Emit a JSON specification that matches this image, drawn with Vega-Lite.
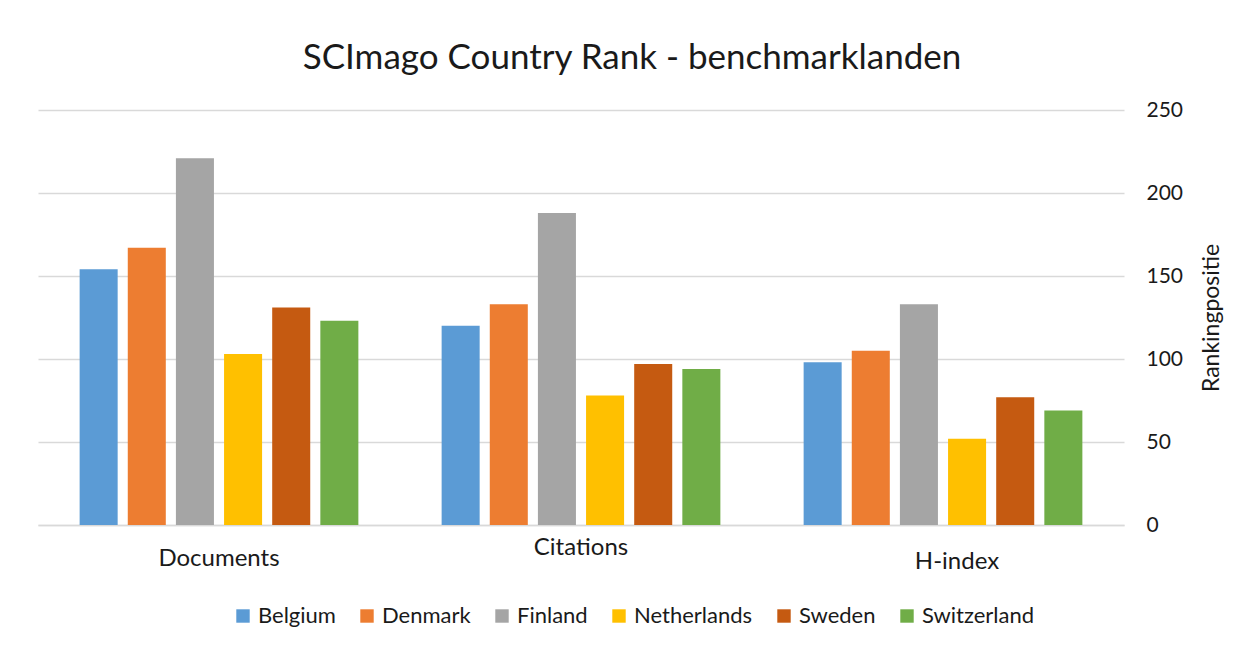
{
  "$schema": "https://vega.github.io/schema/vega-lite/v6.json",
  "autosize": {"type": "none"},
  "width": 1086,
  "height": 415,
  "padding": {"left": 38, "top": 110, "right": 120, "bottom": 123},
  "background": "white",
  "title": {
    "text": "SCImago Country Rank - benchmarklanden",
    "font": "Lato",
    "fontSize": 35,
    "fontWeight": "normal",
    "color": "#1a1a1a",
    "anchor": "middle",
    "dx": 51,
    "offset": 23
  },
  "data": {
    "values": [
      {"metric": "Documents", "country": "Belgium", "rank": 154},
      {"metric": "Documents", "country": "Denmark", "rank": 167},
      {"metric": "Documents", "country": "Finland", "rank": 221},
      {"metric": "Documents", "country": "Netherlands", "rank": 103},
      {"metric": "Documents", "country": "Sweden", "rank": 131},
      {"metric": "Documents", "country": "Switzerland", "rank": 123},
      {"metric": "Citations", "country": "Belgium", "rank": 120},
      {"metric": "Citations", "country": "Denmark", "rank": 133},
      {"metric": "Citations", "country": "Finland", "rank": 188},
      {"metric": "Citations", "country": "Netherlands", "rank": 78},
      {"metric": "Citations", "country": "Sweden", "rank": 97},
      {"metric": "Citations", "country": "Switzerland", "rank": 94},
      {"metric": "H-index", "country": "Belgium", "rank": 98},
      {"metric": "H-index", "country": "Denmark", "rank": 105},
      {"metric": "H-index", "country": "Finland", "rank": 133},
      {"metric": "H-index", "country": "Netherlands", "rank": 52},
      {"metric": "H-index", "country": "Sweden", "rank": 77},
      {"metric": "H-index", "country": "Switzerland", "rank": 69}
    ]
  },
  "mark": {"type": "bar"},
  "encoding": {
    "x": {
      "field": "metric",
      "type": "nominal",
      "sort": ["Documents", "Citations", "H-index"],
      "scale": {"paddingInner": 0.23, "paddingOuter": 0.115},
      "axis": {
        "title": null,
        "labelAngle": 0,
        "labelFont": "Lato",
        "labelFontSize": 24,
        "labelColor": "#1a1a1a",
        "labelPadding": {"condition": [{"test": "datum.value === 'Citations'", "value": 10}, {"test": "datum.value === 'H-index'", "value": 24}], "value": 21},
        "labelOffset": {"condition": {"test": "datum.value === 'H-index'", "value": 14}, "value": 0},
        "ticks": false,
        "domainColor": "#d9d9d9",
        "domainWidth": 1.5
      }
    },
    "xOffset": {
      "field": "country",
      "type": "nominal",
      "scale": {"paddingInner": 0.21, "paddingOuter": 0}
    },
    "y": {
      "field": "rank",
      "type": "quantitative",
      "scale": {"domain": [0, 250]},
      "axis": {
        "orient": "right",
        "title": "Rankingpositie",
        "titleFont": "Lato",
        "titleFontSize": 23,
        "titleFontWeight": "normal",
        "titleColor": "#1a1a1a",
        "titleAngle": 270,
        "titleBaseline": "top",
        "titlePadding": 18,
        "values": [0, 50, 100, 150, 200, 250],
        "labelFont": "Lato",
        "labelFontSize": 21,
        "labelColor": "#1a1a1a",
        "labelPadding": 22,
        "labelAlign": "left",
        "domain": false,
        "ticks": false,
        "gridColor": "#d9d9d9",
        "gridWidth": 1.5
      }
    },
    "color": {
      "field": "country",
      "type": "nominal",
      "scale": {
        "domain": ["Belgium", "Denmark", "Finland", "Netherlands", "Sweden", "Switzerland"],
        "range": ["#5B9BD5", "#ED7D31", "#A5A5A5", "#FFC000", "#C55A11", "#70AD47"]
      },
      "legend": {
        "title": null,
        "orient": "none",
        "direction": "horizontal",
        "legendX": 194,
        "legendY": 495,
        "symbolType": "square",
        "symbolSize": 180,
        "symbolStrokeWidth": 0,
        "symbolOpacity": 1,
        "labelFont": "Lato",
        "labelFontSize": 22,
        "labelColor": "#1a1a1a",
        "labelOffset": 4,
        "columnPadding": 20
      }
    }
  },
  "config": {
    "view": {"stroke": null}
  }
}
